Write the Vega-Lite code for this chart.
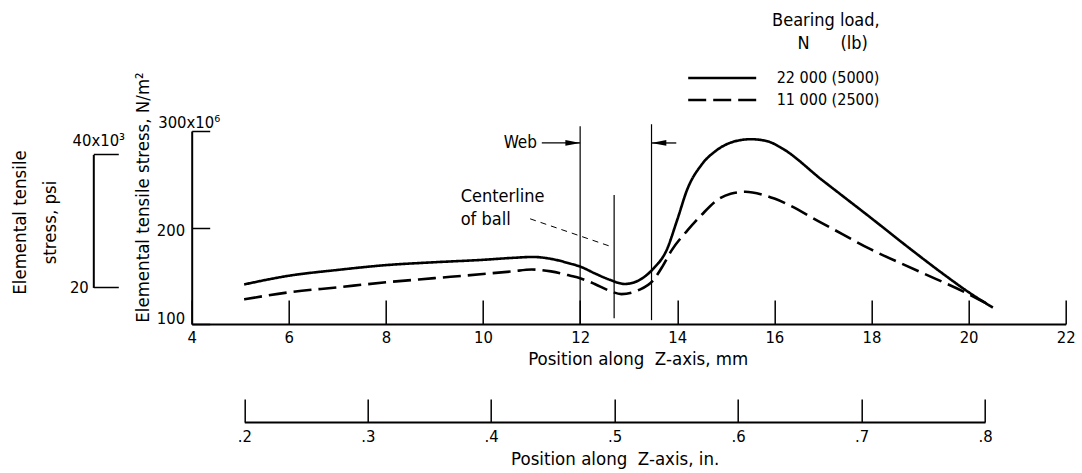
{
  "$schema": "https://vega.github.io/schema/vega-lite/v6.json",
  "autosize": {"type": "none"},
  "width": 874,
  "height": 193,
  "padding": {"left": 191.7, "top": 131, "right": 16.3, "bottom": 149},
  "background": "white",
  "config": {
    "font": "DejaVu Sans Condensed, Liberation Sans Narrow, DejaVu Sans, sans-serif",
    "view": {"stroke": null},
    "axis": {"domainColor": "black", "domainWidth": 2, "tickColor": "black", "tickWidth": 1.5, "labelColor": "black", "titleColor": "black", "labelFontSize": 16.5, "titleFontSize": 18.5, "titleFontWeight": "normal", "grid": false, "labelFlush": false, "labelOverlap": false},
    "text": {"fontSize": 18.5, "color": "black"}
  },
  "datasets": {
    "curves": [
      {"load": "22 000 (5000)", "mm": 5.08, "stress": 141},
      {"load": "22 000 (5000)", "mm": 6, "stress": 150},
      {"load": "22 000 (5000)", "mm": 7, "stress": 156},
      {"load": "22 000 (5000)", "mm": 8, "stress": 161},
      {"load": "22 000 (5000)", "mm": 9, "stress": 164},
      {"load": "22 000 (5000)", "mm": 10, "stress": 166.5},
      {"load": "22 000 (5000)", "mm": 10.6, "stress": 168.5},
      {"load": "22 000 (5000)", "mm": 11.03, "stress": 169.5},
      {"load": "22 000 (5000)", "mm": 11.4, "stress": 167.5},
      {"load": "22 000 (5000)", "mm": 11.8, "stress": 162.5},
      {"load": "22 000 (5000)", "mm": 12, "stress": 159.5},
      {"load": "22 000 (5000)", "mm": 12.3, "stress": 152.5},
      {"load": "22 000 (5000)", "mm": 12.6, "stress": 146},
      {"load": "22 000 (5000)", "mm": 12.92, "stress": 141.5},
      {"load": "22 000 (5000)", "mm": 13.2, "stress": 145},
      {"load": "22 000 (5000)", "mm": 13.5, "stress": 157},
      {"load": "22 000 (5000)", "mm": 13.78, "stress": 176.5},
      {"load": "22 000 (5000)", "mm": 14.0, "stress": 208},
      {"load": "22 000 (5000)", "mm": 14.21, "stress": 240},
      {"load": "22 000 (5000)", "mm": 14.5, "stress": 265},
      {"load": "22 000 (5000)", "mm": 14.81, "stress": 280},
      {"load": "22 000 (5000)", "mm": 15.2, "stress": 289.5},
      {"load": "22 000 (5000)", "mm": 15.52, "stress": 291.5},
      {"load": "22 000 (5000)", "mm": 15.88, "stress": 289},
      {"load": "22 000 (5000)", "mm": 16.11, "stress": 283.5},
      {"load": "22 000 (5000)", "mm": 17, "stress": 248.5},
      {"load": "22 000 (5000)", "mm": 18, "stress": 209.5},
      {"load": "22 000 (5000)", "mm": 18.82, "stress": 177},
      {"load": "22 000 (5000)", "mm": 19.5, "stress": 151},
      {"load": "22 000 (5000)", "mm": 20, "stress": 133},
      {"load": "22 000 (5000)", "mm": 20.5, "stress": 117},
      {"load": "11 000 (2500)", "mm": 5.08, "stress": 125.5},
      {"load": "11 000 (2500)", "mm": 6, "stress": 132.8},
      {"load": "11 000 (2500)", "mm": 7, "stress": 138},
      {"load": "11 000 (2500)", "mm": 8, "stress": 143.2},
      {"load": "11 000 (2500)", "mm": 9, "stress": 147.5},
      {"load": "11 000 (2500)", "mm": 10, "stress": 151.8},
      {"load": "11 000 (2500)", "mm": 10.6, "stress": 154.5},
      {"load": "11 000 (2500)", "mm": 11, "stress": 156.5},
      {"load": "11 000 (2500)", "mm": 11.4, "stress": 154.5},
      {"load": "11 000 (2500)", "mm": 11.8, "stress": 150},
      {"load": "11 000 (2500)", "mm": 12, "stress": 147.4},
      {"load": "11 000 (2500)", "mm": 12.3, "stress": 141.5},
      {"load": "11 000 (2500)", "mm": 12.6, "stress": 134.5},
      {"load": "11 000 (2500)", "mm": 12.85, "stress": 131},
      {"load": "11 000 (2500)", "mm": 13.2, "stress": 135},
      {"load": "11 000 (2500)", "mm": 13.5, "stress": 145},
      {"load": "11 000 (2500)", "mm": 13.7, "stress": 160},
      {"load": "11 000 (2500)", "mm": 13.88, "stress": 176},
      {"load": "11 000 (2500)", "mm": 14.21, "stress": 197},
      {"load": "11 000 (2500)", "mm": 14.5, "stress": 213},
      {"load": "11 000 (2500)", "mm": 14.81, "stress": 228},
      {"load": "11 000 (2500)", "mm": 15.1, "stress": 235},
      {"load": "11 000 (2500)", "mm": 15.4, "stress": 237},
      {"load": "11 000 (2500)", "mm": 15.76, "stress": 234},
      {"load": "11 000 (2500)", "mm": 16, "stress": 230},
      {"load": "11 000 (2500)", "mm": 17, "stress": 204},
      {"load": "11 000 (2500)", "mm": 18, "stress": 177},
      {"load": "11 000 (2500)", "mm": 19, "stress": 154},
      {"load": "11 000 (2500)", "mm": 20, "stress": 131},
      {"load": "11 000 (2500)", "mm": 20.45, "stress": 119}
    ],
    "vlines": [
      {"name": "web inner", "mm": 12, "top": 305, "bottom": 100},
      {"name": "web outer", "mm": 13.47, "top": 307, "bottom": 104},
      {"name": "centerline of ball", "mm": 12.7, "top": 233.7, "bottom": 106}
    ],
    "shafts": [
      {"from": 11.21, "to": 12, "stress": 287.6},
      {"from": 13.47, "to": 13.98, "stress": 287.6}
    ],
    "headRight": [{"mm": 11.85, "stress": 287.6}],
    "headLeft": [{"mm": 13.62, "stress": 287.6}],
    "leader": [{"mm": 10.97, "stress": 209, "mm2": 12.65, "stress2": 180}],
    "webLabel": [{"mm": 11.11, "stress": 287.6, "label": "Web"}],
    "ballLabel": [
      {"mm": 9.54, "stress": 231.6, "label": "Centerline"},
      {"mm": 9.54, "stress": 207.8, "label": "of ball"}
    ],
    "inchTicks": [{"inch": 0.2}, {"inch": 0.3}, {"inch": 0.4}, {"inch": 0.5}, {"inch": 0.6}, {"inch": 0.7}, {"inch": 0.8}],
    "psiTicks": [{"psi": 20}, {"psi": 40}]
  },
  "layer": [
    {
      "layer": [
        {
          "data": {"name": "curves"},
          "mark": {"type": "line", "color": "black", "strokeWidth": 2.6, "interpolate": "monotone"},
          "encoding": {
            "x": {
              "field": "mm", "type": "quantitative",
              "scale": {"domain": [4, 22], "nice": false, "zero": false},
              "axis": {
                "orient": "bottom",
                "values": [4, 6, 8, 10, 12, 14, 16, 18, 20, 22],
                "tickSize": -24, "labelPadding": 29,
                "title": "Position along\u00a0\u00a0Z-axis, mm",
                "titleX": 446, "titleY": 34, "titleBaseline": "middle", "titleAlign": "center"
              }
            },
            "y": {
              "field": "stress", "type": "quantitative",
              "scale": {"domain": [100, 300], "nice": false, "zero": false},
              "axis": {
                "orient": "left",
                "values": [100, 200, 300],
                "tickSize": -18,
                "labelExpr": "datum.value == 300 ? '300x10\u2076' : datum.label",
                "labelAlign": {"condition": {"test": "datum.value == 300", "value": "center"}, "value": "right"},
                "labelBaseline": {"condition": {"test": "datum.value == 300", "value": "alphabetic"}, "value": "middle"},
                "labelOffset": {"condition": [{"test": "datum.value == 300", "value": -4}, {"test": "datum.value == 100", "value": -6}], "value": 3},
                "labelPadding": {"condition": {"test": "datum.value == 300", "value": 21}, "value": 25},
                "title": "Elemental tensile stress, N/m\u00b2",
                "titleX": -49, "titleY": 66, "titleAngle": -90, "titleBaseline": "middle", "titleAlign": "center"
              }
            },
            "strokeDash": {
              "field": "load", "type": "nominal",
              "scale": {"domain": ["22 000 (5000)", "11 000 (2500)"], "range": [[1, 0], [18, 7]]},
              "legend": {
                "orient": "none", "legendX": 495, "legendY": -119,
                "title": ["Bearing load,", "N\u00a0\u00a0\u00a0\u00a0\u00a0\u00a0(lb)\u2800"],
                "titleAnchor": "end", "titleAlign": "right", "titleFontWeight": "normal",
                "titleFontSize": 18, "titleLineHeight": 23, "titlePadding": 14, "titleColor": "black",
                "symbolType": "stroke", "symbolSize": 4624, "symbolStrokeWidth": 2.6, "symbolStrokeColor": "black",
                "clipHeight": 22, "rowPadding": 0, "padding": 0, "labelOffset": 19,
                "labelFontSize": 16, "labelColor": "black"
              }
            }
          }
        },
        {
          "data": {"name": "vlines"},
          "mark": {"type": "rule", "color": "black", "strokeWidth": 1.2},
          "encoding": {
            "x": {"field": "mm", "type": "quantitative"},
            "y": {"field": "top", "type": "quantitative"},
            "y2": {"field": "bottom"}
          }
        },
        {
          "data": {"name": "shafts"},
          "mark": {"type": "rule", "color": "black", "strokeWidth": 1.3},
          "encoding": {
            "x": {"field": "from", "type": "quantitative"},
            "x2": {"field": "to"},
            "y": {"field": "stress", "type": "quantitative"}
          }
        },
        {
          "data": {"name": "headRight"},
          "mark": {"type": "point", "shape": "M-1,-0.38L1,0L-1,0.38Z", "filled": true, "color": "black", "opacity": 1, "size": 225},
          "encoding": {
            "x": {"field": "mm", "type": "quantitative"},
            "y": {"field": "stress", "type": "quantitative"}
          }
        },
        {
          "data": {"name": "headLeft"},
          "mark": {"type": "point", "shape": "M1,-0.38L-1,0L1,0.38Z", "filled": true, "color": "black", "opacity": 1, "size": 225},
          "encoding": {
            "x": {"field": "mm", "type": "quantitative"},
            "y": {"field": "stress", "type": "quantitative"}
          }
        },
        {
          "data": {"name": "leader"},
          "mark": {"type": "rule", "color": "black", "strokeWidth": 1, "strokeDash": [6, 5]},
          "encoding": {
            "x": {"field": "mm", "type": "quantitative"},
            "y": {"field": "stress", "type": "quantitative"},
            "x2": {"field": "mm2"},
            "y2": {"field": "stress2"}
          }
        },
        {
          "data": {"name": "webLabel"},
          "mark": {"type": "text", "align": "right", "baseline": "middle", "fontSize": 17},
          "encoding": {
            "x": {"field": "mm", "type": "quantitative"},
            "y": {"field": "stress", "type": "quantitative"},
            "text": {"field": "label"}
          }
        },
        {
          "data": {"name": "ballLabel"},
          "mark": {"type": "text", "align": "left", "baseline": "middle", "fontSize": 18},
          "encoding": {
            "x": {"field": "mm", "type": "quantitative"},
            "y": {"field": "stress", "type": "quantitative"},
            "text": {"field": "label"}
          }
        }
      ]
    },
    {
      "data": {"name": "inchTicks"},
      "mark": {"type": "rule", "opacity": 0},
      "encoding": {
        "x": {
          "field": "inch", "type": "quantitative",
          "scale": {"domain": [0.2, 0.8], "range": [52.6, 793.3], "nice": false, "zero": false},
          "axis": {
            "orient": "bottom", "offset": 98,
            "values": [0.2, 0.3, 0.4, 0.5, 0.6, 0.7, 0.8],
            "tickSize": -23, "labelPadding": 29,
            "labelExpr": "'.' + round(datum.value * 10)",
            "title": "Position along\u00a0\u00a0Z-axis, in.",
            "titleX": 423, "titleY": 36, "titleBaseline": "middle", "titleAlign": "center"
          }
        }
      }
    },
    {
      "data": {"name": "psiTicks"},
      "mark": {"type": "rule", "opacity": 0},
      "encoding": {
        "y": {
          "field": "psi", "type": "quantitative",
          "scale": {"domain": [20, 40], "range": [156.4, 23.4], "nice": false, "zero": false},
          "axis": {
            "orient": "left", "offset": 98.4,
            "values": [20, 40],
            "tickSize": -25,
            "labelExpr": "datum.value == 40 ? '40x10\u00b3' : '20'",
            "labelAlign": {"condition": {"test": "datum.value == 40", "value": "center"}, "value": "right"},
            "labelBaseline": {"condition": {"test": "datum.value == 40", "value": "alphabetic"}, "value": "middle"},
            "labelOffset": {"condition": {"test": "datum.value == 40", "value": -9}, "value": 0},
            "labelPadding": {"condition": {"test": "datum.value == 40", "value": 20}, "value": 30},
            "title": ["Elemental tensile", "stress, psi"],
            "titleX": -73.3, "titleY": 91, "titleAngle": -90, "titleBaseline": "middle", "titleAlign": "center", "titleLineHeight": 30
          }
        }
      }
    }
  ],
  "resolve": {
    "scale": {"x": "independent", "y": "independent", "strokeDash": "independent"},
    "axis": {"x": "independent", "y": "independent"}
  }
}
